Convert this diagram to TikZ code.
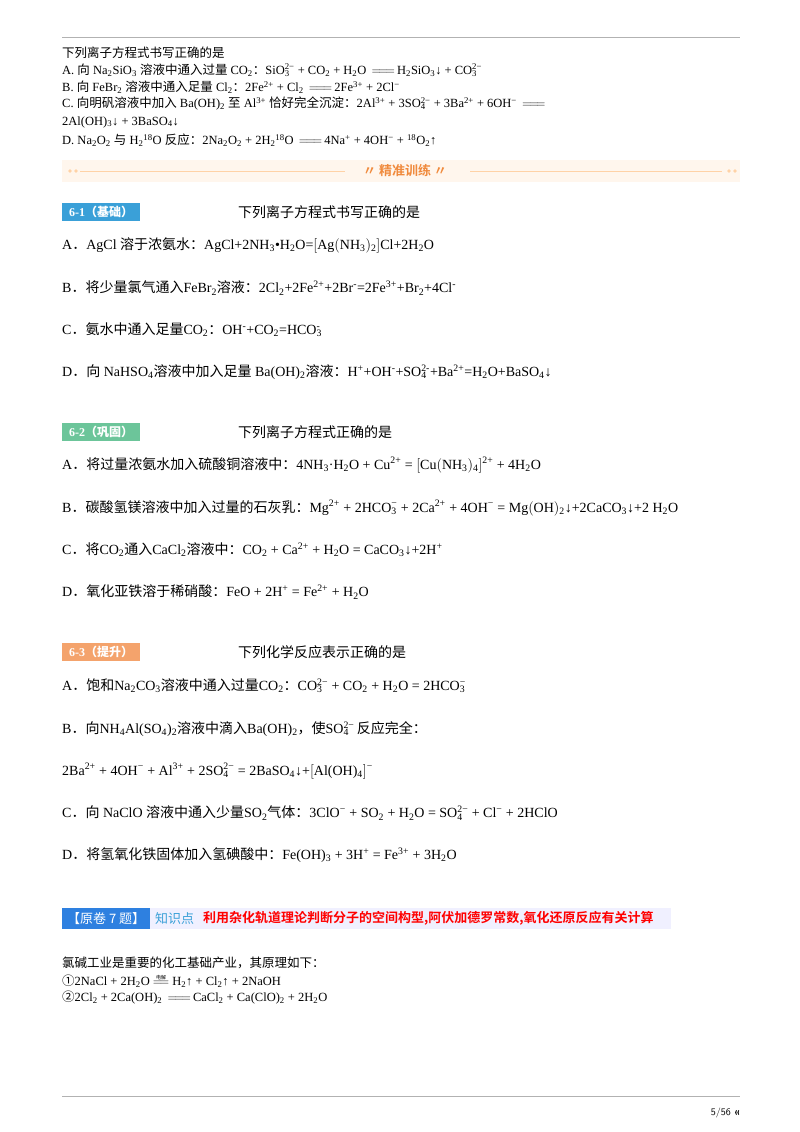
\documentclass[tikz,border=0pt]{standalone}
\usepackage{fontspec}
\setmainfont{Liberation Serif}
\newfontfamily\cjk{Noto Sans CJK SC}
\newfontfamily\cjkb{Noto Sans CJK SC}[BoldFont={* Bold}]
\newcommand\zh[1]{{\cjk #1}}
\newcommand\ds[1]{\textsubscript{#1}}
\newcommand\us[1]{\textsuperscript{#1}}
\newcommand\ion[3]{#1\rlap{\textsubscript{#2}}\textsuperscript{#3}}
\newcommand\lgeq{\,$\Relbar\joinrel\Relbar\joinrel\Relbar$\,}
\definecolor{tagblue}{HTML}{3AA0D8}
\definecolor{taggreen}{HTML}{6CC59A}
\definecolor{tagorange}{HTML}{F4A36C}
\definecolor{banor}{HTML}{F08A3C}
\tikzset{
 ln/.style={anchor=west,inner sep=0pt,font=\fontsize{14}{16}\selectfont},
 sm/.style={anchor=west,inner sep=0pt,font=\fontsize{12.5}{14}\selectfont},
 tagbox/.style={anchor=west,inner sep=0pt,minimum height=18pt,text=white,font=\fontsize{12}{14}\selectfont\bfseries},
}
\begin{document}
\begin{tikzpicture}[x=1pt,y=-1pt]
\useasboundingbox (0,0) rectangle (800,1132);
\fill[white] (0,0) rectangle (800,1132);
\draw[gray!60,line width=1pt] (62,38) -- (740,38);
% top problem
\node[sm] (t0) at (62,53) {\zh{下列离子方程式书写正确的是}};
\node[sm] (tA) at (62,70) {A. \zh{向} Na\ds2SiO\ds3 \zh{溶液中通入过量} CO\ds2\zh{：}\ion{SiO}{3}{2−} + CO\ds2 + H\ds2O \lgeq H\ds2SiO\ds3↓ + \ion{CO}{3}{2−}};
\node[sm] (tB) at (62,87) {B. \zh{向} FeBr\ds2 \zh{溶液中通入足量} Cl\ds2\zh{：}2Fe\us{2+} + Cl\ds2 \lgeq 2Fe\us{3+} + 2Cl\us{−}};
\node[sm] (tC) at (62,104) {C. \zh{向明矾溶液中加入} Ba(OH)\ds2 \zh{至} Al\us{3+} \zh{恰好完全沉淀：}2Al\us{3+} + 3\ion{SO}{4}{2−} + 3Ba\us{2+} + 6OH\us{−} \lgeq};
\node[sm] (tC2) at (62,122) {2Al(OH)\ds3↓ + 3BaSO\ds4↓};
\node[sm] (tD) at (62,140) {D. Na\ds2O\ds2 \zh{与} H\ds2\us{18}O \zh{反应：}2Na\ds2O\ds2 + 2H\ds2\us{18}O \lgeq 4Na\us{+} + 4OH\us{−} + \us{18}O\ds2↑};
% banner
\fill[orange!7] (62,160) rectangle (740,182);
\draw[orange!35,line width=0.8pt] (80,171) -- (345,171) (470,171) -- (722,171);
\foreach \x in {70,76,729,735} \fill[orange!35] (\x,171) circle (1.8pt);
\node[anchor=center,inner sep=0pt,text=banor,font=\fontsize{13}{15}\selectfont\cjkb\bfseries] (ban) at (405,171) {〃 精准训练 〃};
% 6-1
\node[tagbox,fill=tagblue,minimum width=78pt] (g1) at (62,212) {6-1\zh{（基础）}};
\node[ln] (q1) at (238,212) {\zh{下列离子方程式书写正确的是}};
\node[ln] (a1) at (62,245) {A\zh{．}AgCl \zh{溶于浓氨水：}AgCl+2NH\ds3•H\ds2O=$\bigl[$Ag$\bigl($NH\ds3$\bigr)$\ds2$\bigr]$Cl+2H\ds2O};
\node[ln] (b1) at (62,288) {B\zh{．将少量氯气通入}FeBr\ds2\zh{溶液：}2Cl\ds2+2Fe\us{2+}+2Br\us{-}=2Fe\us{3+}+Br\ds2+4Cl\us{-}};
\node[ln] (c1) at (62,330) {C\zh{．氨水中通入足量}CO\ds2\zh{：}OH\us{-}+CO\ds2=\ion{HCO}{3}{-}};
\node[ln] (d1) at (62,372) {D\zh{．向} NaHSO\ds4\zh{溶液中加入足量} Ba(OH)\ds2\zh{溶液：}H\us{+}+OH\us{-}+\ion{SO}{4}{2-}+Ba\us{2+}=H\ds2O+BaSO\ds4↓};
% 6-2
\node[tagbox,fill=taggreen,minimum width=78pt] (g2) at (62,432) {6-2\zh{（巩固）}};
\node[ln] (q2) at (238,432) {\zh{下列离子方程式正确的是}};
\node[ln] (a2) at (62,465) {A\zh{．将过量浓氨水加入硫酸铜溶液中：}4NH\ds3·H\ds2O + Cu\us{2+} = $\bigl[$Cu$\bigl($NH\ds3$\bigr)$\ds4$\bigr]$\us{2+} + 4H\ds2O};
\node[ln] (b2) at (62,508) {B\zh{．碳酸氢镁溶液中加入过量的石灰乳：}Mg\us{2+} + 2\ion{HCO}{3}{−} + 2Ca\us{2+} + 4OH\us{−} = Mg$\bigl($OH$\bigr)$\ds2↓+2CaCO\ds3↓+2 H\ds2O};
\node[ln] (c2) at (62,550) {C\zh{．将}CO\ds2\zh{通入}CaCl\ds2\zh{溶液中：}CO\ds2 + Ca\us{2+} + H\ds2O = CaCO\ds3↓+2H\us{+}};
\node[ln] (d2) at (62,592) {D\zh{．氧化亚铁溶于稀硝酸：}FeO + 2H\us{+} = Fe\us{2+} + H\ds2O};
% 6-3
\node[tagbox,fill=tagorange,minimum width=78pt] (g3) at (62,652) {6-3\zh{（提升）}};
\node[ln] (q3) at (238,652) {\zh{下列化学反应表示正确的是}};
\node[ln] (a3) at (62,686) {A\zh{．饱和}Na\ds2CO\ds3\zh{溶液中通入过量}CO\ds2\zh{：}\ion{CO}{3}{2−} + CO\ds2 + H\ds2O = 2\ion{HCO}{3}{−}};
\node[ln] (b3) at (62,729) {B\zh{．向}NH\ds4Al(SO\ds4)\ds2\zh{溶液中滴入}Ba(OH)\ds2\zh{，使}\ion{SO}{4}{2−}\,\zh{反应完全：}};
\node[ln] (b3b) at (62,771) {2Ba\us{2+} + 4OH\us{−} + Al\us{3+} + 2\ion{SO}{4}{2−} = 2BaSO\ds4↓+$\bigl[$Al(OH)\ds4$\bigr]$\us{−}};
\node[ln] (c3) at (62,813) {C\zh{．向} NaClO \zh{溶液中通入少量}SO\ds2\zh{气体：}3ClO\us{−} + SO\ds2 + H\ds2O = \ion{SO}{4}{2−} + Cl\us{−} + 2HClO};
\node[ln] (d3) at (62,855) {D\zh{．将氢氧化铁固体加入氢碘酸中：}Fe(OH)\ds3 + 3H\us{+} = Fe\us{3+} + 3H\ds2O};
% original 7
\fill[blue!6] (62,908) rectangle (671,929);
\node[anchor=west,inner sep=0pt,minimum height=21pt,minimum width=88pt,fill=tagblue!80!blue,text=white,font=\fontsize{13}{15}\selectfont\cjk] (g4) at (62,918.5) {【原卷 7 题】};
\node[anchor=west,inner sep=0pt,text=tagblue,font=\fontsize{13}{15}\selectfont\cjk] (k4) at (155,918.5) {知识点};
\node[anchor=west,inner sep=0pt,text=red,font=\fontsize{13}{15}\selectfont\cjkb\bfseries] (r4) at (203,918.5) {利用杂化轨道理论判断分子的空间构型,阿伏加德罗常数,氧化还原反应有关计算};
\node[sm] (e0) at (62,963) {\zh{氯碱工业是重要的化工基础产业，其原理如下：}};
\node[sm] (e1) at (62,981) {\zh{①}2NaCl + 2H\ds2O $\stackrel{\mbox{\zh{\tiny 电解}}}{\Relbar\joinrel\Relbar}$ H\ds2↑ + Cl\ds2↑ + 2NaOH};
\node[sm] (e2) at (62,998) {\zh{②}2Cl\ds2 + 2Ca(OH)\ds2 \lgeq CaCl\ds2 + Ca(ClO)\ds2 + 2H\ds2O};
% footer
\draw[gray!60,line width=1pt] (62,1096) -- (740,1096);
\node[anchor=east,inner sep=0pt,font=\fontsize{10}{12}\selectfont\sffamily] (pg) at (740,1113) {5/56 \textbf{«}};
\end{tikzpicture}
\end{document}
